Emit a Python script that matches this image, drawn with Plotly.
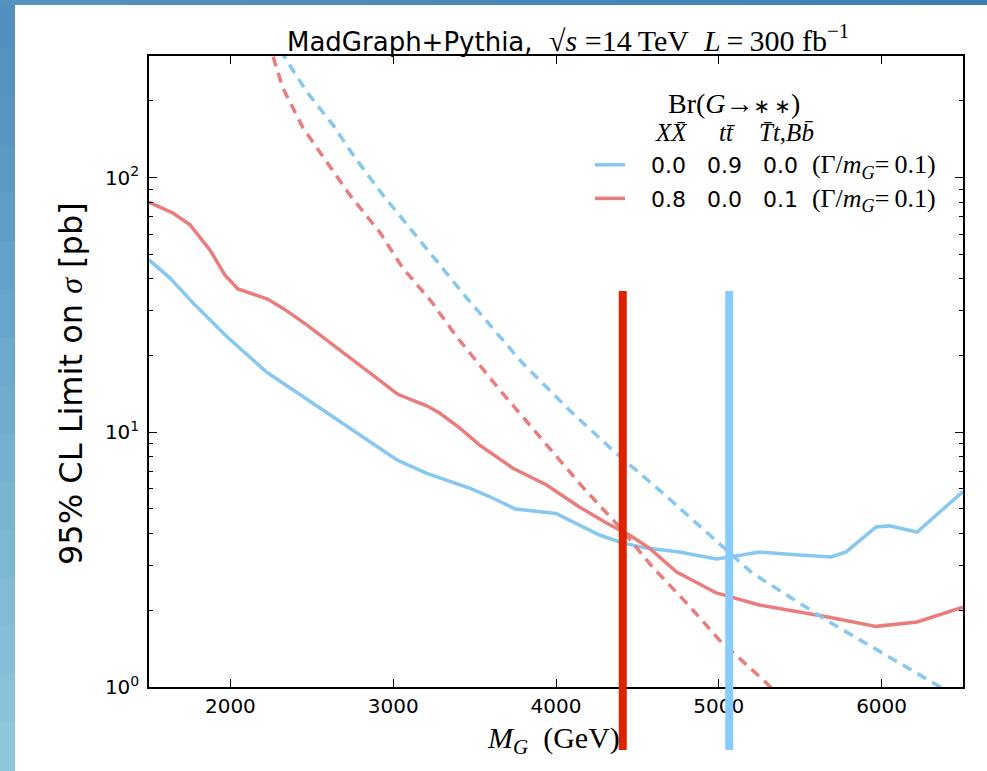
import plotly.graph_objects as go

# ---------------- data ----------------
# solid: observed 95% CL limits
MASS_BLUE = [1500, 1629, 1770, 1979, 2224, 2506, 2776, 3021, 3206, 3328, 3469, 3610, 3750, 4000,
             4144, 4267, 4408, 4555, 4758, 4985, 5107, 5248, 5494, 5690, 5782, 5966, 6046, 6218, 6500]
LIMIT_BLUE = [47.5, 40.3, 32.2, 23.7, 17.2, 13.0, 9.9, 7.8, 6.9, 6.5, 6.04, 5.52, 5.0, 4.8,
              4.33, 3.95, 3.68, 3.51, 3.39, 3.18, 3.27, 3.39, 3.30, 3.24, 3.39, 4.25, 4.29, 4.06, 5.85]

MASS_RED = [1500, 1647, 1752, 1825, 1874, 1966, 2046, 2224, 2322, 2469, 2610, 2776, 2917, 3028,
            3206, 3285, 3408, 3531, 3733, 3942, 4064, 4144, 4310, 4451, 4574, 4739, 4985, 5248,
            5494, 5678, 5966, 6218, 6500]
LIMIT_RED = [80, 72.6, 65.2, 56.9, 52, 41.5, 36.5, 33.4, 30.7, 26.4, 22.6, 18.7, 16.0, 14.1,
             12.7, 11.9, 10.4, 8.9, 7.24, 6.21, 5.52, 5.09, 4.40, 3.95, 3.51, 2.83, 2.34, 2.10,
             1.97, 1.88, 1.73, 1.80, 2.06]

# dashed: theory cross sections
MASS_BLUE_TH = [2250, 2334, 2469, 2629, 2776, 2936, 3101, 3267, 3451, 3531, 3794, 4083, 4347,
                4635, 5003, 5206, 5660, 6353, 6420]
XSEC_BLUE_TH = [360, 297, 217, 161, 117, 85.5, 63.4, 46.6, 33.7, 29.4, 18.7, 12.2, 8.52,
                5.93, 3.68, 2.80, 1.83, 1.01, 0.95]

MASS_RED_TH = [2200, 2273, 2322, 2445, 2592, 2733, 2917, 3058, 3236, 3390, 3653, 3917, 4163,
               4390, 4592, 4801, 5003, 5291, 5350]
XSEC_RED_TH = [400, 284, 225, 157, 115, 85.5, 61.1, 44.2, 32.5, 23.7, 14.7, 9.33, 6.10,
               4.25, 2.96, 2.14, 1.53, 1.04, 0.95]

# mass reach markers drawn on the slide
MARKER_MASS = [4410, 5064]
MARKER_COLOR = ["#dd2200", "#88ccff"]

X_TICKS = [2000, 3000, 4000, 5000, 6000]
Y_TICKS = [1, 10, 100]
Y_TICK_TEXT = ["10<sup>0</sup>", "10<sup>1</sup>", "10<sup>2</sup>"]
Y_MINOR = [m * 10 ** e for e in range(0, 3) for m in range(2, 10) if m * 10 ** e <= 300]

LEG_BLUE = ["0.0", "0.9", "0.0"]
LEG_RED = ["0.8", "0.0", "0.1"]

# ---------------- styling ----------------
BLUE = "#87c8ef"
RED = "#e97d7d"
SANS = "DejaVu Sans"
SERIF = "Liberation Serif"
NB = "\u00a0"
TH = "\u2009"

W, H = 987, 771
ML, MR, MT, MB = 149, 24, 56, 84
PW, PH = W - ML - MR, H - MT - MB


def px(xp):
    return (xp - ML) / PW


def py(yp):
    return (H - MB - yp) / PH


def leg_text(vals):
    sp = NB * 3
    return (NB * 3 + sp.join(vals) + NB * 2 +
            f"<span style='font-family:{SERIF};font-size:26px'>(Γ/<i>m</i><sub><i>G</i></sub>={TH}0.1)</span>")


fig = go.Figure()
fig.add_trace(go.Scatter(x=MASS_BLUE, y=LIMIT_BLUE, mode="lines", name=leg_text(LEG_BLUE),
                         line=dict(color=BLUE, width=3.5), legendgroup="a"))
fig.add_trace(go.Scatter(x=MASS_RED, y=LIMIT_RED, mode="lines", name=leg_text(LEG_RED),
                         line=dict(color=RED, width=3.5), legendgroup="b"))
fig.add_trace(go.Scatter(x=MASS_BLUE_TH, y=XSEC_BLUE_TH, mode="lines", showlegend=False,
                         line=dict(color=BLUE, width=3.5, dash="10px,7px")))
fig.add_trace(go.Scatter(x=MASS_RED_TH, y=XSEC_RED_TH, mode="lines", showlegend=False,
                         line=dict(color=RED, width=3.5, dash="10px,7px")))

shapes = []
# slide background strips (left and top), approximated gradient
n = 16
for i in range(n):
    t = i / (n - 1)
    r = int(0x50 + (0x8e - 0x50) * t)
    g = int(0x8f + (0xc7 - 0x8f) * t)
    b = int(0xbf + (0xdb - 0xbf) * t)
    y0p = H * i / n
    y1p = H * (i + 1) / n + 1
    shapes.append(dict(type="rect", xref="paper", yref="paper", x0=px(0), x1=px(15),
                       y0=py(y1p), y1=py(y0p), line=dict(width=0), fillcolor=f"rgb({r},{g},{b})",
                       layer="below"))
for i in range(n):
    t = i / (n - 1)
    r = int(0x55 + (0x3e - 0x55) * t)
    g = int(0x93 + (0x7e - 0x93) * t)
    b = int(0xc0 + (0xb4 - 0xc0) * t)
    x0p = W * i / n
    x1p = W * (i + 1) / n + 1
    shapes.append(dict(type="rect", xref="paper", yref="paper", x0=px(x0p), x1=px(x1p),
                       y0=py(5), y1=py(0), line=dict(width=0), fillcolor=f"rgb({r},{g},{b})",
                       layer="below"))
for m, c in zip(MARKER_MASS, MARKER_COLOR):
    shapes.append(dict(type="line", xref="x", yref="paper", x0=m, x1=m, y0=py(750), y1=py(291),
                       line=dict(color=c, width=8), layer="above"))

annotations = [
    dict(text=("MadGraph+Pythia," + NB * 2 +
               f"<span style='font-family:{SERIF};font-size:30px'>√<i>s</i>" + NB + "=14" + TH + "TeV" + NB * 2 +
               "<i>L</i>" + TH + "=" + TH + "300 fb<sup>−1</sup></span>"),
         x=px(568), y=py(38), xref="paper", yref="paper", showarrow=False,
         font=dict(family=SANS, size=26, color="black"), xanchor="center", yanchor="middle"),
    dict(text=f"95% CL Limit on <span style='font-family:{SERIF}'><i>σ</i></span> [pb]",
         x=px(71), y=py(384), xref="paper", yref="paper", showarrow=False, textangle=-90,
         font=dict(family=SANS, size=32, color="black"), xanchor="center", yanchor="middle"),
    dict(text="<i>M</i><sub><i>G</i></sub>" + NB * 2 + "(GeV)",
         x=px(553), y=py(740), xref="paper", yref="paper", showarrow=False,
         font=dict(family=SERIF, size=30, color="black"), xanchor="center", yanchor="middle"),
    dict(text="Br(<i>G</i>→<span style='font-family:DejaVu Sans;font-size:20px'>∗" + TH + "∗</span>)",
         x=px(734), y=py(103), xref="paper", yref="paper",
         showarrow=False, font=dict(family=SERIF, size=28, color="black"),
         xanchor="center", yanchor="middle"),
    dict(text="<i>XX̄</i>", x=px(671), y=py(132), xref="paper", yref="paper",
         showarrow=False, font=dict(family=SERIF, size=25, color="black"),
         xanchor="center", yanchor="middle"),
    dict(text="<i>tt̄</i>", x=px(727), y=py(132), xref="paper", yref="paper",
         showarrow=False, font=dict(family=SERIF, size=25, color="black"),
         xanchor="center", yanchor="middle"),
    dict(text="<i>T̄t</i>,<i>Bb̄</i>", x=px(786), y=py(132), xref="paper", yref="paper",
         showarrow=False, font=dict(family=SERIF, size=25, color="black"),
         xanchor="center", yanchor="middle"),
]

axis_common = dict(showline=True, linecolor="black", linewidth=1.5, mirror="allticks",
                   ticks="inside", ticklen=8, tickwidth=1.2, tickcolor="black",
                   showgrid=False, zeroline=False,
                   tickfont=dict(family=SANS, size=20, color="black"))

fig.update_layout(
    width=W, height=H,
    margin=dict(l=ML, r=MR, t=MT, b=MB, autoexpand=False),
    paper_bgcolor="white", plot_bgcolor="white",
    xaxis=dict(range=[1500, 6500], tickmode="array", tickvals=X_TICKS,
               ticktext=[str(v) for v in X_TICKS], **axis_common),
    yaxis=dict(type="log", range=[0, 2.4771], tickmode="array", tickvals=Y_TICKS,
               ticktext=Y_TICK_TEXT, ticklabelstandoff=4,
               minor=dict(tickmode="array", tickvals=Y_MINOR, ticks="inside", ticklen=4,
                          tickwidth=1, tickcolor="black", showgrid=False),
               **axis_common),
    showlegend=True,
    legend=dict(x=px(590), y=py(144), xanchor="left", yanchor="top",
                bgcolor="rgba(0,0,0,0)", font=dict(family=SANS, size=22, color="black"),
                tracegroupgap=2, traceorder="grouped", itemwidth=30),
    shapes=shapes,
    annotations=annotations,
)

fig.write_html("out.html")
